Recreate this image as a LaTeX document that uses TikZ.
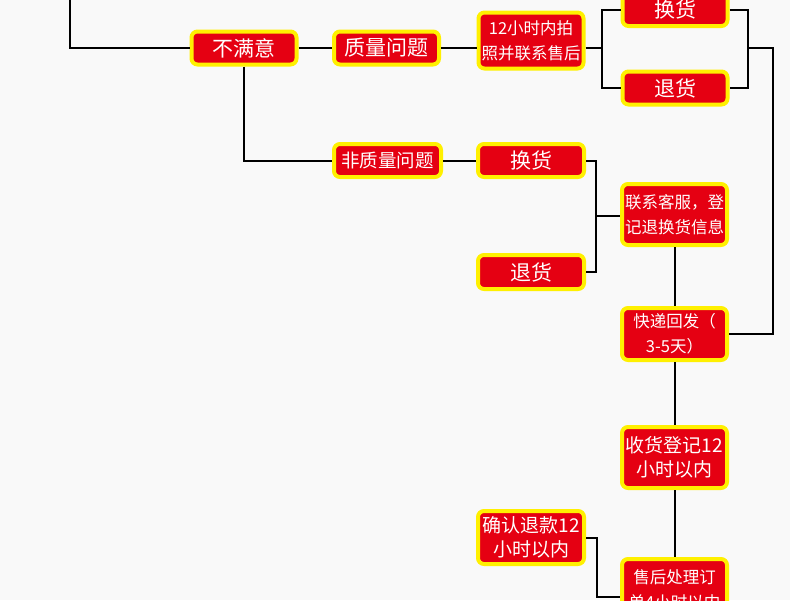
\documentclass[tikz,border=0pt]{standalone}
\usepackage{fontspec}
\newfontfamily\cjk{Noto Sans CJK SC}
\definecolor{bgpage}{HTML}{F9F9F9}
\definecolor{boxred}{HTML}{E50012}
\definecolor{boxyellow}{HTML}{FFF000}
\tikzset{
  stepnode/.style={draw=boxyellow,fill=boxred,line width=4pt,rounded corners=6pt,
    text=white,inner sep=0pt,minimum width=105pt,minimum height=33pt,align=center},
  bigtxt/.style={font=\cjk\fontsize{21}{25}\selectfont},
  midtxt/.style={font=\cjk\fontsize{19}{24}\selectfont},
  smalltxt/.style={font=\cjk\fontsize{16.5}{25}\selectfont},
  wire/.style={draw=black,line width=2pt}
}
\begin{document}
\begin{tikzpicture}[x=1pt,y=-1pt]
\path[use as bounding box,fill=bgpage] (0,0) rectangle (790,600);
\clip (0,0) rectangle (790,600);
% left branch: quality problems
\node[stepnode,bigtxt] (bmy) at (244,48) {不满意};
\node[stepnode,bigtxt] (zlwt) at (386.5,48) {质量问题};
\node[stepnode,smalltxt,minimum height=56pt] (pzlx) at (531,40.5) {12小时内拍\\照并联系售后};
\node[stepnode,bigtxt] (hhtop) at (675,9.5) {换货};
\node[stepnode,bigtxt] (thtop) at (675,88) {退货};
% non-quality problems
\node[stepnode,font=\cjk\fontsize{18.5}{22}\selectfont,minimum width=107pt] (fzlwt) at (387.5,160.5) {非质量问题};
\node[stepnode,bigtxt,minimum width=106pt] (hhmid) at (531,160.5) {换货};
\node[stepnode,bigtxt,minimum width=106pt,minimum height=34pt] (thmid) at (531,272) {退货};
% right column
\node[stepnode,smalltxt,minimum height=61pt] (lxkf) at (674.5,214.5) {联系客服，登\\记退换货信息};
\node[stepnode,smalltxt,minimum height=52pt] (kdhf) at (674.5,334) {快递回发（\\3-5天）};
\node[stepnode,midtxt,minimum height=61pt] (shdj) at (674.5,457.5) {收货登记12\\小时以内};
\node[stepnode,midtxt,minimum width=106pt,minimum height=53pt] (qrtk) at (531,537.5) {确认退款12\\小时以内};
\node[stepnode,smalltxt,minimum height=61pt] (shcl) at (674.5,589.5) {售后处理订\\单4小时以内};
% joints
\coordinate (top) at (70,-5);
\coordinate (j1) at (602,48);
\coordinate (j2) at (748,48);
\coordinate (j3) at (773,48);
\coordinate (j4) at (596,216);
\coordinate (j5) at (597,597);
\draw[wire] (top) |- (bmy.west);
\draw[wire] (bmy) -- (zlwt);
\draw[wire] (zlwt.east) -- (zlwt.east -| pzlx.west);
\draw[wire] (zlwt.east -| pzlx.east) -- (j1);
\draw[wire] (hhtop.west) -| (j1) |- (thtop.west);
\draw[wire] (hhtop.east) -| (j2) |- (thtop.east);
\draw[wire] (j2) -- (j3) |- (kdhf.east);
\draw[wire] (bmy.south) |- (fzlwt.west);
\draw[wire] (fzlwt) -- (hhmid);
\draw[wire] (hhmid.east) -| (j4) |- (thmid.east);
\draw[wire] (j4) -- (j4 -| lxkf.west);
\draw[wire] (lxkf) -- (kdhf);
\draw[wire] (kdhf) -- (shdj);
\draw[wire] (shdj) -- (shcl);
\draw[wire] (qrtk.east) -| (j5) -- (j5 -| shcl.west);
\end{tikzpicture}
\end{document}
